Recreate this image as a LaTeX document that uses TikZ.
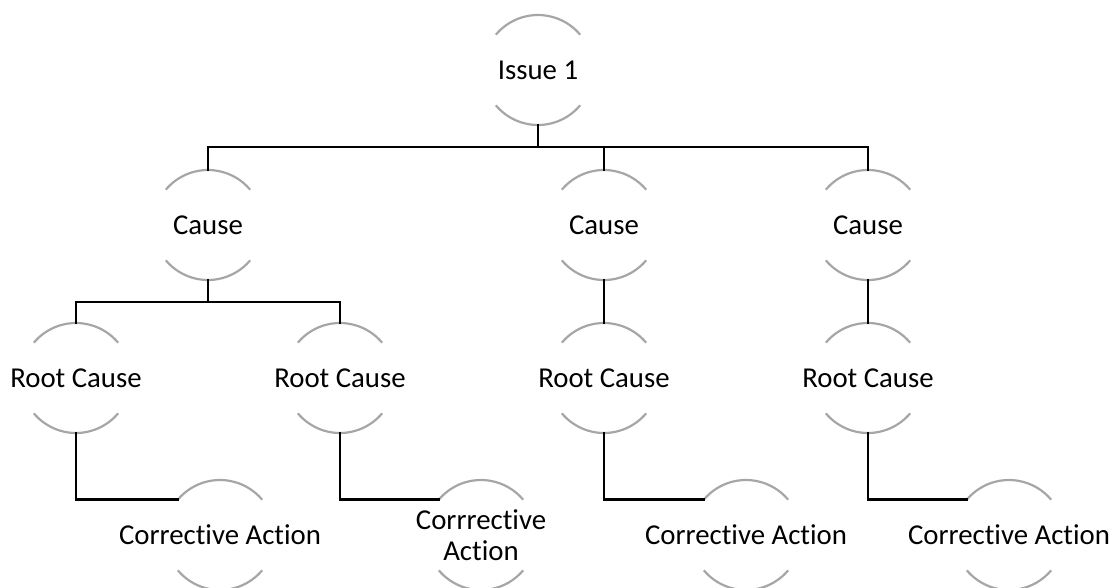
\documentclass[tikz,border=0pt]{standalone}
\usepackage{fontspec}
\setmainfont[Ligatures=NoCommon]{Carlito}
\definecolor{rimgray}{RGB}{166,166,166}
\tikzset{
  ball/.style={circle,minimum size=110pt,inner sep=0pt,outer sep=0pt},
  rim/.style={draw=rimgray,line width=2.2pt},
  link/.style={draw=black,line width=2.8pt,line cap=rect},
  every label/.style={font=\fontsize{28.8}{31}\selectfont,align=center,inner sep=0pt}
}
\begin{document}
\begin{tikzpicture}[x=1pt,y=1pt]
    \useasboundingbox (0,0) rectangle (1114,-587);
    % Issue
    \node[ball,label=center:{Issue 1}] (issue) at (538,-70) {};
    % Causes
    \node[ball,label=center:{Cause}] (causeA) at (208,-225) {};
    \node[ball,label=center:{Cause}] (causeB) at (604,-225) {};
    \node[ball,label=center:{Cause}] (causeC) at (868,-225) {};
    % Root causes
    \node[ball,label=center:{Root Cause}] (rootA) at (76,-378) {};
    \node[ball,label=center:{Root Cause}] (rootB) at (340,-378) {};
    \node[ball,label=center:{Root Cause}] (rootC) at (604,-378) {};
    \node[ball,label=center:{Root Cause}] (rootD) at (868,-378) {};
    % Corrective actions
    \node[ball,label=center:{Corrective Action}] (actA) at (220,-535) {};
    \node[ball,label=center:{Corrrective\\Action}] (actB) at (481,-535) {};
    \node[ball,label=center:{Corrective Action}] (actC) at (746,-535) {};
    \node[ball,label=center:{Corrective Action}] (actD) at (1009,-535) {};
    % Arcs
    \foreach \n in {issue,causeA,causeB,causeC,rootA,rootB,rootC,rootD,actA,actB,actC,actD} {
      \draw[rim] (\n.140) arc[start angle=140,end angle=40,radius=55pt];
      \draw[rim] (\n.-140) arc[start angle=-140,end angle=-40,radius=55pt];
    }
    % Bus lines
    \coordinate (busA) at (538,-147);
    \coordinate (busB) at (208,-302);
    \draw[link] (issue.south) -- (busA);
    \draw[link] (causeA.north) -- (causeA.north |- busA) -- (causeC.north |- busA) -- (causeC.north);
    \draw[link] (causeB.north) -- (causeB.north |- busA);
    \draw[link] (causeA.south) -- (busB);
    \draw[link] (rootA.north) -- (rootA.north |- busB) -- (rootB.north |- busB) -- (rootB.north);
    \draw[link] (causeB.south) -- (rootC.north);
    \draw[link] (causeC.south) -- (rootD.north);
    % Root cause to action
    \draw[link] (rootA.south) |- (actA.140);
    \draw[link] (rootB.south) |- (actB.140);
    \draw[link] (rootC.south) |- (actC.140);
    \draw[link] (rootD.south) |- (actD.140);
\end{tikzpicture}
\end{document}
